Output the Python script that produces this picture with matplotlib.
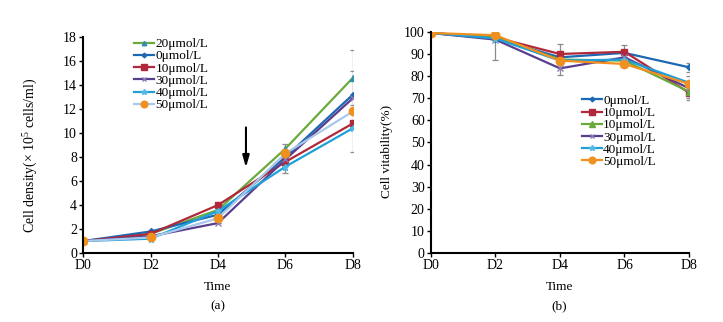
import matplotlib
matplotlib.use("Agg")
import matplotlib.pyplot as plt
import numpy as np

plt.rcParams['font.family'] = ['Liberation Serif', 'DejaVu Serif']
plt.rcParams['mathtext.fontset'] = 'custom'
plt.rcParams['mathtext.rm'] = 'Liberation Serif'

days = ["D0", "D2", "D4", "D6", "D8"]

# Panel (a): cell density
dens_labels = ["20\u03bcmol/L", "0\u03bcmol/L", "10\u03bcmol/L", "30\u03bcmol/L", "40\u03bcmol/L", "50\u03bcmol/L"]
dens_20 = [1.0, 1.6, 3.6, 8.7, 14.6]
dens_0 = [1.0, 1.8, 3.2, 8.0, 13.2]
dens_10 = [1.0, 1.6, 4.0, 7.6, 10.8]
dens_30 = [1.0, 1.4, 2.5, 7.8, 12.9]
dens_40 = [1.0, 1.2, 3.5, 7.2, 10.4]
dens_50 = [1.0, 1.3, 2.9, 8.3, 11.8]
dens_err_20 = [0, 0, 0, 0.4, 2.3]
dens_err_0 = [0, 0, 0, 0, 0]
dens_err_10 = [0, 0, 0, 0, 0]
dens_err_30 = [0, 0, 0, 0, 0]
dens_err_40 = [0, 0, 0, 0.5, 0]
dens_err_50 = [0, 0, 0, 0, 3.4]

# Panel (b): cell viability
via_labels = ["0\u03bcmol/L", "10\u03bcmol/L", "10\u03bcmol/L", "30\u03bcmol/L", "40\u03bcmol/L", "50\u03bcmol/L"]
via_0 = [99.5, 97.0, 88.5, 90.5, 84.0]
via_10 = [99.5, 97.5, 90.0, 91.0, 72.5]
via_10b = [99.5, 97.5, 87.5, 87.0, 73.0]
via_30 = [99.5, 96.5, 83.5, 88.5, 74.5]
via_40 = [99.5, 97.0, 87.0, 87.5, 77.0]
via_50 = [99.5, 98.5, 87.0, 85.5, 76.5]
via_err_0 = [0, 0, 0, 0, 2.0]
via_err_10 = [0, 0, 4.5, 3.0, 2.5]
via_err_10b = [0, 0, 0, 0, 0]
via_err_30 = [0, 9.0, 3.0, 0, 5.5]
via_err_40 = [0, 0, 0, 0, 0]
via_err_50 = [0, 0, 0, 1.0, 0]

x = np.arange(len(days)) * 2

fig = plt.figure(figsize=(7.23, 3.22), dpi=100)
ax1 = fig.add_axes([0.115, 0.214, 0.373, 0.671])
ax2 = fig.add_axes([0.596, 0.214, 0.357, 0.687])

styles_a = [
    ("#6aaa3c", "^", "#2f8fb0", 4),
    ("#1d68b3", "D", "#1d68b3", 3),
    ("#b0283a", "s", "#b0283a", 5),
    ("#5a3e8e", "x", "#8a7ab8", 4),
    ("#1fa0d8", "*", "#4fb8e8", 5),
    ("#a8c8ec", "o", "#f0901e", 6),
]
series_a = [dens_20, dens_0, dens_10, dens_30, dens_40, dens_50]
errs_a = [dens_err_20, dens_err_0, dens_err_10, dens_err_30, dens_err_40, dens_err_50]


def draw(ax, series, errs, labels, styles):
    for vals, err in zip(series, errs):
        ax.errorbar(x, vals, yerr=err, fmt='none', ecolor="#8c8c8c", elinewidth=0.9,
                    capsize=2, capthick=0.9, zorder=1)
    for vals, lab, (c, m, mc, ms) in zip(series, labels, styles):
        ax.plot(x, vals, color=c, marker=m, mfc=mc, mec=mc, ms=ms, lw=1.6, label=lab, zorder=2)


draw(ax1, series_a, errs_a, dens_labels, styles_a)

ax1.set_xlim(0, 8)
ax1.set_ylim(0, 18)
ax1.set_yticks(np.arange(0, 19, 2))
ax1.set_xticks(x)
ax1.set_xticklabels(days)
ax1.set_ylabel("Cell density(\u00d7 10$^{5}$ cells/ml)", fontsize=10)
ax1.yaxis.set_label_coords(-0.165, 0.45)
ax1.set_xlabel("Time", fontsize=9.5)
ax1.annotate("", xy=(4.83, 6.9), xytext=(4.83, 10.7),
             arrowprops=dict(arrowstyle="-|>,head_width=0.2,head_length=0.7", color="black", lw=1.5))
ax1.legend(loc="upper left", bbox_to_anchor=(0.17, 1.02), frameon=False, fontsize=9.5,
           handlelength=1.5, handletextpad=0.1, labelspacing=0.0, borderaxespad=0, markerscale=0.8)

styles_b = [
    ("#1d68b3", "D", "#1d68b3", 3),
    ("#b0283a", "s", "#b0283a", 5),
    ("#6aaa3c", "^", "#6aaa3c", 5),
    ("#5a3e8e", "x", "#8a7ab8", 4),
    ("#1fa0d8", "*", "#4fb8e8", 5),
    ("#f0901e", "o", "#f0901e", 6),
]
series_b = [via_0, via_10, via_10b, via_30, via_40, via_50]
errs_b = [via_err_0, via_err_10, via_err_10b, via_err_30, via_err_40, via_err_50]
draw(ax2, series_b, errs_b, via_labels, styles_b)

ax2.set_xlim(0, 8)
ax2.set_ylim(0, 100)
ax2.set_yticks(np.arange(0, 101, 10))
ax2.set_xticks(x)
ax2.set_xticklabels(days)
ax2.set_ylabel("Cell vitability(%)", fontsize=9.5)
ax2.yaxis.set_label_coords(-0.145, 0.46)
ax2.set_xlabel("Time", fontsize=9.5)
ax2.legend(loc="upper left", bbox_to_anchor=(0.565, 0.74), frameon=False, fontsize=9.5,
           handlelength=1.5, handletextpad=0.1, labelspacing=0.0, borderaxespad=0, markerscale=0.8)

for ax in (ax1, ax2):
    ax.spines['top'].set_visible(False)
    ax.spines['right'].set_visible(False)
    ax.spines['left'].set_linewidth(1.5)
    ax.spines['bottom'].set_linewidth(1.5)
    ax.tick_params(axis='both', labelsize=10, length=3, width=1, pad=1.5)
    ax.xaxis.labelpad = 6

fig.text(0.302, 0.04, "(a)", ha="center", fontsize=9.5)
fig.text(0.774, 0.04, "(b)", ha="center", fontsize=9.5)

fig.savefig("out.png", dpi=100)
